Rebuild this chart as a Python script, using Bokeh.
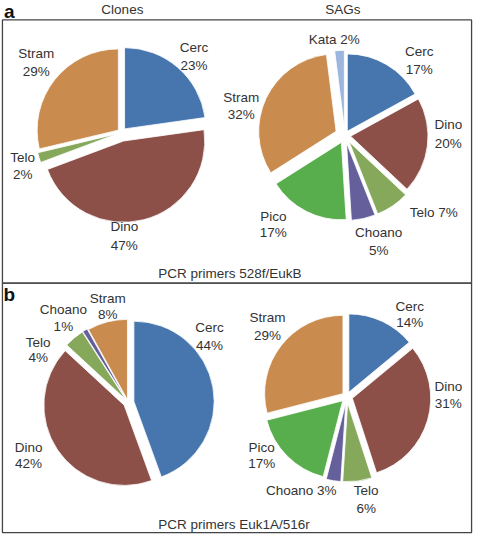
import numpy as np
from bokeh.plotting import figure
from bokeh.models import Range1d, ColumnDataSource
from bokeh.embed import file_html
from bokeh.resources import INLINE
from bokeh.core.properties import value

# ---------------- data ----------------
clones_a_names = ["Cerc", "Dino", "Telo", "Stram"]
clones_a_values = [23, 47, 2, 29]

sags_a_names = ["Cerc", "Dino", "Telo", "Choano", "Pico", "Stram", "Kata"]
sags_a_values = [17, 20, 7, 5, 17, 32, 2]

clones_b_names = ["Cerc", "Dino", "Telo", "Choano", "Stram"]
clones_b_values = [44, 42, 4, 1, 8]

sags_b_names = ["Cerc", "Dino", "Telo", "Choano", "Pico", "Stram"]
sags_b_values = [14, 31, 6, 3, 17, 29]

column_titles = ["Clones", "SAGs"]
panel_letters = ["a", "b"]
primer_captions = ["PCR primers 528f/EukB", "PCR primers Euk1A/516r"]

COLORS = {
    "Cerc": "#4676ad",
    "Dino": "#8c5049",
    "Telo": "#86a85a",
    "Stram": "#c98b4e",
    "Pico": "#58ad4d",
    "Choano": "#655f9c",
    "Kata": "#9cb6df",
}

# ---------------- layout (reference pixel space) ----------------
W_REF, H_REF = 489, 550
FONT = value("Liberation Sans")
TXT = "#333333"


def Y(y):
    return H_REF - y


p = figure(width=473, height=534, x_range=Range1d(0, W_REF), y_range=Range1d(0, H_REF),
           output_backend="svg", toolbar_location=None, min_border=0,
           x_axis_location=None, y_axis_location=None)
p.grid.visible = False
p.outline_line_color = None
p.background_fill_color = "white"

# panel boxes
p.quad(left=[2, 2], right=[487, 487], top=[Y(20), Y(291)], bottom=[Y(291), Y(548)],
       fill_color=None, line_color="#444444", line_width=1.3)


def draw_pie(names, vals, cx, cy, r, offs):
    v = np.array(vals, dtype=float)
    frac = v / v.sum()
    ends = np.cumsum(frac) * 2 * np.pi
    starts = ends - frac * 2 * np.pi
    mid = (starts + ends) / 2
    offs = np.array(offs, dtype=float)
    src = ColumnDataSource(dict(
        x=cx + offs * np.sin(mid),
        y=Y(cy) + offs * np.cos(mid),
        start=np.pi / 2 - ends,
        end=np.pi / 2 - starts,
        color=[COLORS[n] for n in names],
    ))
    p.wedge(x="x", y="y", radius=r, start_angle="start", end_angle="end",
            fill_color="color", line_color="white", line_width=0.8, source=src)


lx, ly, lt = [], [], []


def add_labels(names, vals, pos):
    for n, v, (x, y1, y2) in zip(names, vals, pos):
        if y2 is None:
            lx.append(x); ly.append(Y(y1)); lt.append(f"{n} {v}%")
        else:
            lx.append(x); ly.append(Y(y1)); lt.append(n)
            lx.append(x); ly.append(Y(y2)); lt.append(f"{v}%")


# panel a, clones
draw_pie(clones_a_names, clones_a_values, 125, 136, 84, [5, 9, 5, 4])
add_labels(clones_a_names, clones_a_values,
           [(200, 48, 67), (128, 233, 252), (23, 162, 179), (37, 55, 73)])

# panel a, SAGs
draw_pie(sags_a_names, sags_a_values, 356, 139, 80, [5, 6, 8, 8, 8, 10, 8])
add_labels(sags_a_names, sags_a_values,
           [(433, 53, 71), (463, 128, 147), (448, 218, None), (391, 239, 257),
            (282, 222, 239), (249, 100, 117), (345, 40, None)])

# panel b, clones
draw_pie(clones_b_names, clones_b_values, 132, 414, 83, [6, 5, 4, 4, 3])
add_labels(clones_b_names, clones_b_values,
           [(216, 337, 355), (29, 460, 477), (39, 352, 368), (65, 318, 336), (111, 307, 323)])

# panel b, SAGs
draw_pie(sags_b_names, sags_b_values, 358, 408, 81, [5, 6, 7, 7, 6, 5])
add_labels(sags_b_names, sags_b_values,
           [(423, 315, 332), (463, 398, 415), (378, 505, 523), (311, 505, None),
            (270, 460, 477), (276, 327, 345)])

p.text(x=lx, y=ly, text=lt, text_font=FONT, text_font_size="13.5px", text_color=TXT,
       text_align="center", text_baseline="middle")

# column titles
p.text(x=[126, 354], y=[Y(9), Y(9)], text=column_titles, text_font=FONT,
       text_font_size="13.5px", text_color=TXT, text_align="center", text_baseline="middle")

# panel letters
p.text(x=[9, 9], y=[Y(0.5), Y(292)], text=panel_letters, text_font=FONT,
       text_font_size="19px", text_font_style="bold", text_color="#111111",
       text_align="center", text_baseline="top")

# primer captions
p.text(x=[163, 163], y=[Y(281), Y(540)], text=primer_captions, text_font=FONT,
       text_font_size="13.5px", text_color=TXT, text_align="left", text_baseline="middle")

open("out.html", "w").write(file_html(p, INLINE))
